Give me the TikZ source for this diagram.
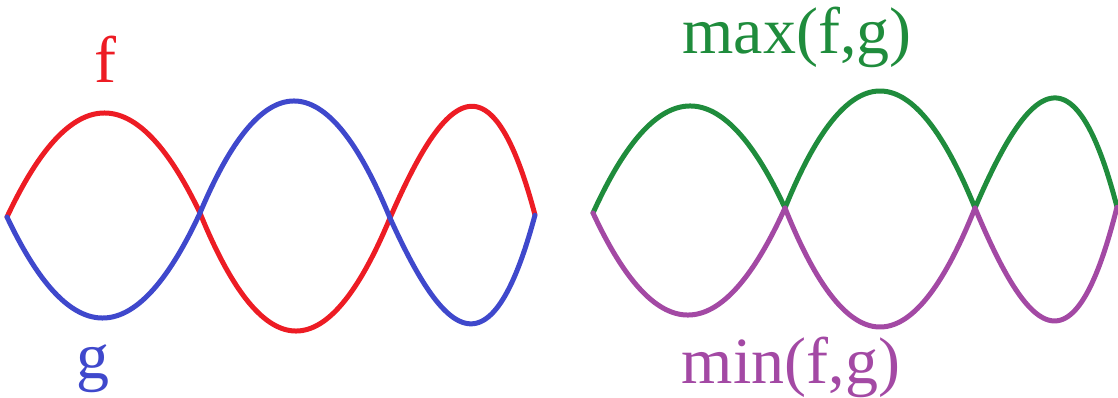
\documentclass[tikz,border=0pt]{standalone}
\usepackage{fontspec}
\setmainfont{Liberation Serif}
\definecolor{fred}{HTML}{ED1C24}
\definecolor{gblue}{HTML}{3F48CC}
\definecolor{mxgreen}{HTML}{1F8C3C}
\definecolor{mnpurple}{HTML}{A349A4}
% hump: start x, start y, end x, end y, amplitude (up positive), skew k, style
\newcommand\hump[7]{\draw[curve,#7] plot[domain=0:1,samples=90] ({#1+(#3-#1)*\x},{#2+(#4-#2)*\x-4*(#5)*(\x+(#6)*\x*(1-\x))*(1-\x-(#6)*\x*(1-\x))});}
\begin{document}
\begin{tikzpicture}[x=1pt,y=-1pt,
  curve/.style={line width=5pt,line cap=round,line join=round},
  lbl/.style={anchor=base,inner sep=0pt,font=\fontsize{66}{70}\selectfont}]
\useasboundingbox (0,0) rectangle (1118,398);
% left: f (red) and g (blue)
\hump{7}{217}{200}{213}{102}{0}{fred}
\hump{200}{213}{390}{218}{-115.5}{0}{fred}
\hump{390}{218}{535}{215}{110}{-0.25}{fred}
\hump{7}{217}{200}{213}{-103}{0}{gblue}
\hump{200}{213}{390}{218}{114.5}{0}{gblue}
\hump{390}{218}{535}{215}{-107.5}{-0.25}{gblue}
% right: max (green) and min (purple)
\hump{593}{213}{785}{208}{104.5}{0}{mxgreen}
\hump{785}{208}{975}{208}{117}{0}{mxgreen}
\hump{975}{208}{1117}{207}{109.5}{-0.25}{mxgreen}
\hump{593}{213}{785}{208}{-104.5}{0}{mnpurple}
\hump{785}{208}{975}{208}{-119}{0}{mnpurple}
\hump{975}{208}{1117}{207}{-113.5}{-0.25}{mnpurple}
% labels
\node[lbl,text=fred] (f) at (105,83) {f};
\node[lbl,text=gblue] (g) at (93,378) {g};
\node[lbl,text=mxgreen] (max) at (797,54) {max(f,g)};
\node[lbl,text=mnpurple] (min) at (791,383) {min(f,g)};
\end{tikzpicture}
\end{document}
